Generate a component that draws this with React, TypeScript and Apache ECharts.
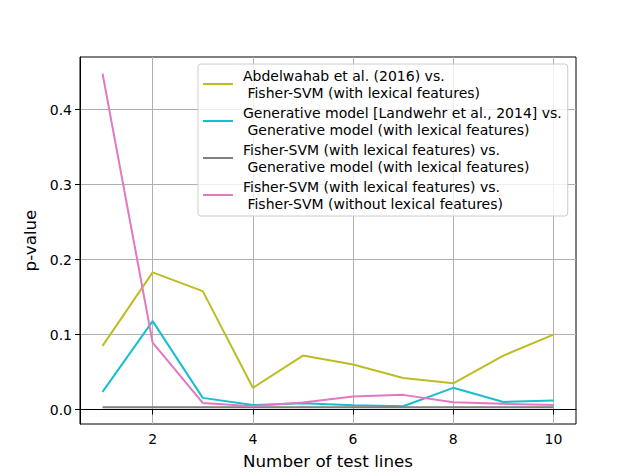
import React, { useEffect, useRef } from "react";
import * as echarts from "echarts";

const xValues = [1, 2, 3, 4, 5, 6, 7, 8, 9, 10];
const seriesNames = [
  "Abdelwahab et al. (2016) vs.\n Fisher-SVM (with lexical features)",
  "Generative model [Landwehr et al., 2014] vs.\n Generative model (with lexical features)",
  "Fisher-SVM (with lexical features) vs.\n Generative model (with lexical features)",
  "Fisher-SVM (with lexical features) vs.\n Fisher-SVM (without lexical features)",
];
const abdelwahabVsFisher = [0.085, 0.183, 0.158, 0.029, 0.072, 0.060, 0.042, 0.035, 0.072, 0.100];
const generativeVsGenerative = [0.0236, 0.118, 0.0156, 0.0062, 0.0085, 0.0058, 0.0045, 0.029, 0.0102, 0.012];
const fisherVsGenerative = [0.003, 0.003, 0.003, 0.003, 0.003, 0.003, 0.003, 0.003, 0.003, 0.003];
const fisherVsFisher = [0.448, 0.0893, 0.0089, 0.0045, 0.0093, 0.0173, 0.0196, 0.0098, 0.0076, 0.0062];
const colors = ["#bcbd22", "#17becf", "#7f7f7f", "#e377c2"];
const xTicks = [2, 4, 6, 8, 10];
const yTicks = [0, 0.1, 0.2, 0.3, 0.4];

const FONT = "DejaVu Sans";

export default function App() {
  const ref = useRef<HTMLDivElement>(null);
  useEffect(() => {
    if (!ref.current) return;
    const chart = echarts.init(ref.current, undefined, { renderer: "svg" });
    const all = [abdelwahabVsFisher, generativeVsGenerative, fisherVsGenerative, fisherVsFisher];
    const series = all.map((vals, i) => ({
      name: seriesNames[i],
      type: "line",
      data: xValues.map((x, j) => [x, vals[j]]),
      symbol: "none",
      lineStyle: { color: colors[i], width: 2 },
      itemStyle: { color: colors[i] },
      z: 3,
    }));
    const flat = all.flat();
    const dmin = Math.min(...flat);
    const dmax = Math.max(...flat);
    const pad = (dmax - dmin) * 0.05;
    chart.setOption({
      animation: false,
      backgroundColor: "#ffffff",
      grid: {
        left: 80,
        right: 64,
        top: 57,
        bottom: 52,
        show: true,
        borderColor: "#000000",
        borderWidth: 1,
        backgroundColor: "transparent",
      },
      legend: {
        orient: "vertical",
        left: 198,
        top: 64,
        padding: [3, 6, 4, 5],
        itemGap: 3,
        itemWidth: 30,
        itemHeight: 2,
        icon: "rect",
        backgroundColor: "rgba(255,255,255,0.8)",
        borderColor: "#cccccc",
        borderWidth: 1,
        borderRadius: 3,
        textStyle: {
          fontFamily: FONT,
          fontSize: 14,
          color: "#000000",
          lineHeight: 17,
          padding: [0, 0, 0, 5],
        },
        data: seriesNames,
      },
      xAxis: {
        type: "value",
        min: 0.55,
        max: 10.45,
        name: "Number of test lines",
        nameLocation: "middle",
        nameGap: 28,
        nameTextStyle: { fontFamily: FONT, fontSize: 16.7, color: "#000000" },
        axisLine: { show: true, lineStyle: { color: "#000000", width: 1 } },
        axisTick: {
          show: true,
          length: 5,
          lineStyle: { color: "#000000" },
          customValues: xTicks,
        },
        axisLabel: {
          fontFamily: FONT,
          fontSize: 14,
          color: "#000000",
          margin: 8,
          customValues: xTicks,
        },
        splitLine: { show: true, lineStyle: { color: "#b0b0b0", width: 1 } },
      },
      yAxis: {
        type: "value",
        min: dmin - pad,
        max: dmax + pad,
        name: "p-value",
        nameLocation: "middle",
        nameGap: 37,
        nameTextStyle: { fontFamily: FONT, fontSize: 16.7, color: "#000000" },
        axisLine: { show: true, lineStyle: { color: "#000000", width: 1 } },
        axisTick: {
          show: true,
          length: 5,
          lineStyle: { color: "#000000" },
          customValues: yTicks,
        },
        axisLabel: {
          fontFamily: FONT,
          fontSize: 14,
          color: "#000000",
          margin: 8,
          customValues: yTicks,
          formatter: (v: number) => v.toFixed(1),
        },
        splitLine: { show: true, lineStyle: { color: "#b0b0b0", width: 1 } },
      },
      series,
    });
    return () => chart.dispose();
  }, []);
  return (
    <div
      ref={ref}
      style={{ position: "fixed", left: 0, top: 0, width: 640, height: 476, background: "#fff" }}
    />
  );
}
